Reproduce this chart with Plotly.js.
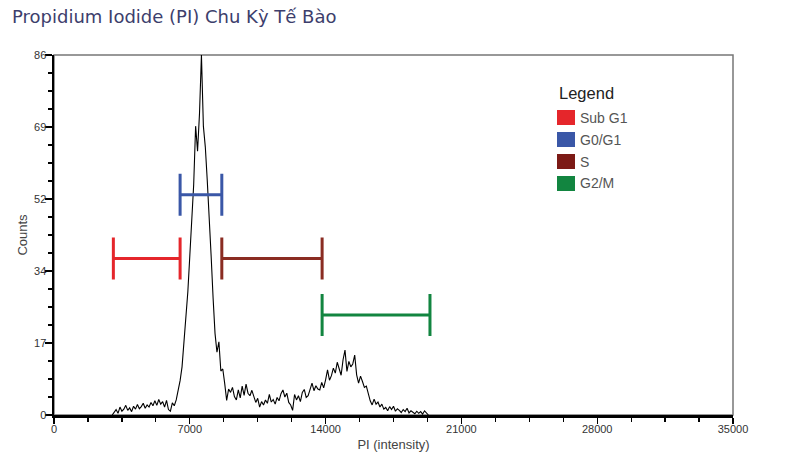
<!DOCTYPE html>
<html>
<head>
<meta charset="utf-8">
<script src="https://cdn.plot.ly/plotly-3.0.1.min.js"></script>
<style>
  html, body { margin: 0; padding: 0; background: #fff; }
  #chart { width: 786px; height: 467px; }
</style>
</head>
<body>
<div id="chart"></div>
<script>
// PI histogram, 100-unit bins starting at 3000
const binStart = 3000;
const binWidth = 100;
const counts = [
  0.0, 0.6, 1.3, 0.4, 1.9, 0.9, 1.4, 2.3, 1.1, 1.7,
  0.8, 2.1, 1.4, 2.5, 1.5, 2.0, 2.8, 1.6, 2.4, 1.9,
  3.0, 2.2, 3.4, 2.3, 3.7, 2.6, 3.2, 1.9, 3.5, 1.3,
  0.9, 2.9, 2.2, 3.6, 5.8, 8.2, 11.5, 17.0, 24.5, 29.5,
  38.0, 46.0, 55.0, 69.0, 63.0, 72.0, 86.0, 69.0, 64.0, 56.0,
  48.0, 38.0, 28.0, 19.5, 15.0, 17.5, 10.5, 11.0, 7.5, 3.5,
  6.2, 5.4, 6.6, 4.4, 3.6, 6.0, 4.1, 6.9, 4.7, 7.4,
  5.2, 4.6, 5.9, 4.2, 3.0, 4.0, 1.9, 3.2, 2.4, 3.6,
  2.8, 4.9, 3.1, 3.7, 2.6, 4.2, 3.4, 5.1, 6.0, 4.3,
  5.2, 3.0, 2.4, 1.1, 4.9, 3.6, 4.6, 3.2, 5.4, 6.1,
  4.2, 4.6, 6.4, 7.6, 5.8, 7.0, 6.2, 6.0, 7.8, 6.5,
  8.4, 10.8, 8.3, 9.4, 11.2, 10.0, 12.6, 11.0, 9.5, 13.2,
  15.5, 10.4, 12.8, 11.5, 12.2, 14.3, 9.6, 7.6, 9.3, 8.0,
  6.6, 6.9, 5.0, 3.4, 2.4, 3.8, 2.6, 3.1, 1.9, 2.6,
  1.4, 1.8, 1.0, 2.0, 1.3, 2.1, 0.9, 1.5, 1.1, 0.6,
  1.3, 0.8, 1.6, 0.5, 1.0, 0.7, 0.3, 0.9, 0.4, 0.8,
  0.2, 1.0, 0.4, 0.0
];

// cell cycle gates
const phaseNames = ["Sub G1", "G0/G1", "S", "G2/M"];
const gateFrom = [3060, 6500, 8650, 13820];
const gateTo = [6500, 8650, 13820, 19380];
const gateLevel = [37.4, 52.6, 37.4, 23.9];
const phaseColors = ["#e5262b", "#3a57a7", "#7c1a16", "#128540"];
const gateColors = ["#e5262b", "#3a57a7", "#8a2c22", "#128540"];

const xTicks = [0, 7000, 14000, 21000, 28000, 35000];
const yTicks = [0, 17.2, 34.4, 51.6, 68.8, 86];
const yTickText = ["0", "17", "34", "52", "69", "86"];

const chart = document.getElementById("chart");

// plot area in pixels, used to place the hand drawn legend
const M = { l: 54, r: 53, t: 55, b: 52 };
const plotW = 786 - M.l - M.r;
const plotH = 467 - M.t - M.b;
const px = (x) => (x - M.l) / plotW;
const py = (y) => (467 - M.b - y) / plotH;

let xs = counts.map((c, i) => binStart + i * binWidth);

let traces = [{
  x: xs,
  y: counts,
  type: "scatter",
  mode: "lines",
  line: { color: "#000", width: 1.1 },
  hoverinfo: "skip",
  showlegend: false,
}];

phaseNames.forEach(function (name, i) {
  traces.push({
    x: [(gateFrom[i] + gateTo[i]) / 2],
    y: [gateLevel[i]],
    type: "scatter",
    mode: "markers",
    name: name,
    marker: { size: 1, color: "rgba(0,0,0,0)" },
    error_x: {
      type: "data",
      symmetric: true,
      array: [(gateTo[i] - gateFrom[i]) / 2],
      color: gateColors[i],
      thickness: 3,
      width: 21,
    },
    showlegend: false,
  });
});

let shapes = [{
  type: "rect",
  xref: "paper", yref: "paper",
  x0: 0, x1: 1, y0: 0, y1: 1,
  line: { color: "#777", width: 1.5 },
  layer: "below",
}];

let annotations = [{
  text: "Legend",
  xref: "paper", yref: "paper",
  x: px(557), y: py(93),
  xanchor: "left", yanchor: "middle",
  showarrow: false,
  font: { family: "Liberation Sans, Arial, sans-serif", size: 16.5, color: "#222" },
}];

phaseNames.forEach(function (name, i) {
  let cy = 117.5 + 22 * i;
  shapes.push({
    type: "rect",
    xref: "paper", yref: "paper",
    x0: px(557), x1: px(575),
    y0: py(cy + 7.5), y1: py(cy - 7.5),
    fillcolor: phaseColors[i],
    line: { width: 0 },
  });
  annotations.push({
    text: name,
    xref: "paper", yref: "paper",
    x: px(578), y: py(cy),
    xanchor: "left", yanchor: "middle",
    showarrow: false,
    font: { family: "Liberation Sans, Arial, sans-serif", size: 14, color: "#555" },
  });
});

let layout = {
  width: 786,
  height: 467,
  margin: M,
  paper_bgcolor: "#fff",
  plot_bgcolor: "#fff",
  title: {
    text: "Propidium Iodide (PI) Chu Kỳ Tế Bào",
    xref: "container", yref: "container",
    x: 12 / 786, xanchor: "left",
    y: 1 - 17 / 467, yanchor: "middle",
    font: { family: "DejaVu Sans, sans-serif", size: 18, color: "#3d3e6c" },
  },
  xaxis: {
    range: [0, 35000],
    tickmode: "array",
    tickvals: xTicks,
    ticktext: xTicks.map(String),
    ticks: "outside",
    ticklen: 6,
    tickwidth: 1.2,
    tickcolor: "#000",
    ticklabelstandoff: -4,
    minor: { tickmode: "linear", tick0: 0, dtick: 1750, ticks: "outside", ticklen: 4, tickcolor: "#000", showgrid: false },
    showline: true,
    linecolor: "#000",
    linewidth: 2.5,
    showgrid: false,
    zeroline: false,
    tickfont: { family: "Liberation Sans, Arial, sans-serif", size: 11, color: "#333" },
    title: {
      text: "PI (intensity)",
      standoff: 6,
      font: { family: "Liberation Sans, Arial, sans-serif", size: 13, color: "#444" },
    },
  },
  yaxis: {
    range: [0, 86],
    tickmode: "array",
    tickvals: yTicks,
    ticktext: yTickText,
    ticks: "outside",
    ticklen: 7,
    tickwidth: 1.2,
    tickcolor: "#000",
    ticklabelstandoff: -4,
    minor: { tickmode: "linear", tick0: 0, dtick: 4.3, ticks: "outside", ticklen: 4, tickcolor: "#000", showgrid: false },
    showline: true,
    linecolor: "#000",
    linewidth: 2.5,
    showgrid: false,
    zeroline: false,
    tickfont: { family: "Liberation Sans, Arial, sans-serif", size: 11, color: "#333" },
    title: {
      text: "Counts",
      standoff: 4,
      font: { family: "Liberation Sans, Arial, sans-serif", size: 13, color: "#444" },
    },
  },
  shapes: shapes,
  annotations: annotations,
  showlegend: false,
};

Plotly.newPlot(chart, traces, layout, { displayModeBar: false, staticPlot: true });
</script>
</body>
</html>
